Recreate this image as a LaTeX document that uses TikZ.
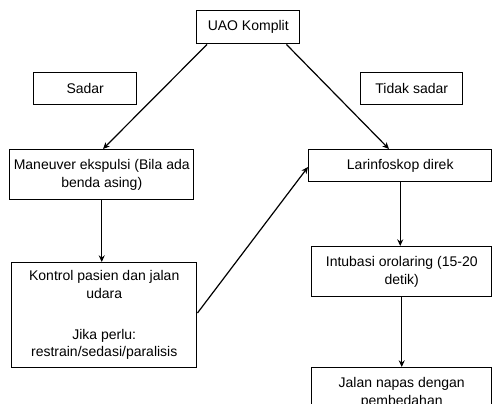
\documentclass[tikz,border=0pt]{standalone}
\usepackage{fontspec}
\setmainfont{Liberation Sans}
\usetikzlibrary{arrows.meta,calc}
\tikzset{every picture/.style={line width=0.75pt}}
\tikzset{box/.style={draw, line width=1.1pt, anchor=north west, inner sep=0.75pt, align=center, font=\fontsize{10.5}{13}\selectfont},
  flow/.style={line width=0.9pt, -{Stealth[length=5pt,width=4.5pt]}}}

\begin{document}
\begin{tikzpicture}[x=0.75pt,y=0.75pt,yscale=-1,xscale=1]
\useasboundingbox (0,0) rectangle (492,403);

% Text Node
\draw (196,10) node [box, minimum width=77.25pt, minimum height=24.75pt] (uao) {UAO Komplit};
% Text Node
\draw (33,72) node [box, minimum width=77.25pt, minimum height=24pt] (sadar) {Sadar};
% Text Node
\draw (360,72) node [box, minimum width=76.5pt, minimum height=24pt] (tidak) {Tidak sadar};
% Text Node
\draw (9,149) node [box, minimum width=138pt, minimum height=37.5pt] (man) {Maneuver ekspulsi (Bila ada\\ benda asing)};
% Text Node
\draw (308,149) node [box, minimum width=137.25pt, minimum height=24pt] (lar) {Larinfoskop direk};
% Text Node
\draw (11,262) node [box, minimum width=138.75pt, minimum height=78.75pt] (kon) {Kontrol pasien dan jalan\\ udara\\[18pt] Jika perlu:\\ restrain/sedasi/paralisis};
% Text Node
\draw (311,246) node [box, minimum width=135pt, minimum height=37.5pt] (intu) {Intubasi orolaring (15-20\\ detik)};
% Text Node
\draw (311,367) node [box, minimum width=135pt, minimum height=37.5pt] (jal) {Jalan napas dengan\\ pembedahan};

%Straight Lines
\draw [flow] ($(uao.south west)+(11,0)$) -- ($(man.north west)+(94,0)$);
%Straight Lines
\draw [flow] ($(uao.south east)+(-14,0)$) -- ($(lar.north west)+(81,0)$);
%Straight Lines
\draw [flow] (man.south) -- (man.south |- kon.north);
%Straight Lines
\draw [flow] ($(kon.north east)+(0,51)$) -- ($(lar.north west)+(0,18)$);
%Straight Lines
\draw [flow] (lar.south) -- (lar.south |- intu.north);
%Straight Lines
\draw [flow] (intu.south) -- (intu.south |- jal.north);

\end{tikzpicture}
\end{document}
